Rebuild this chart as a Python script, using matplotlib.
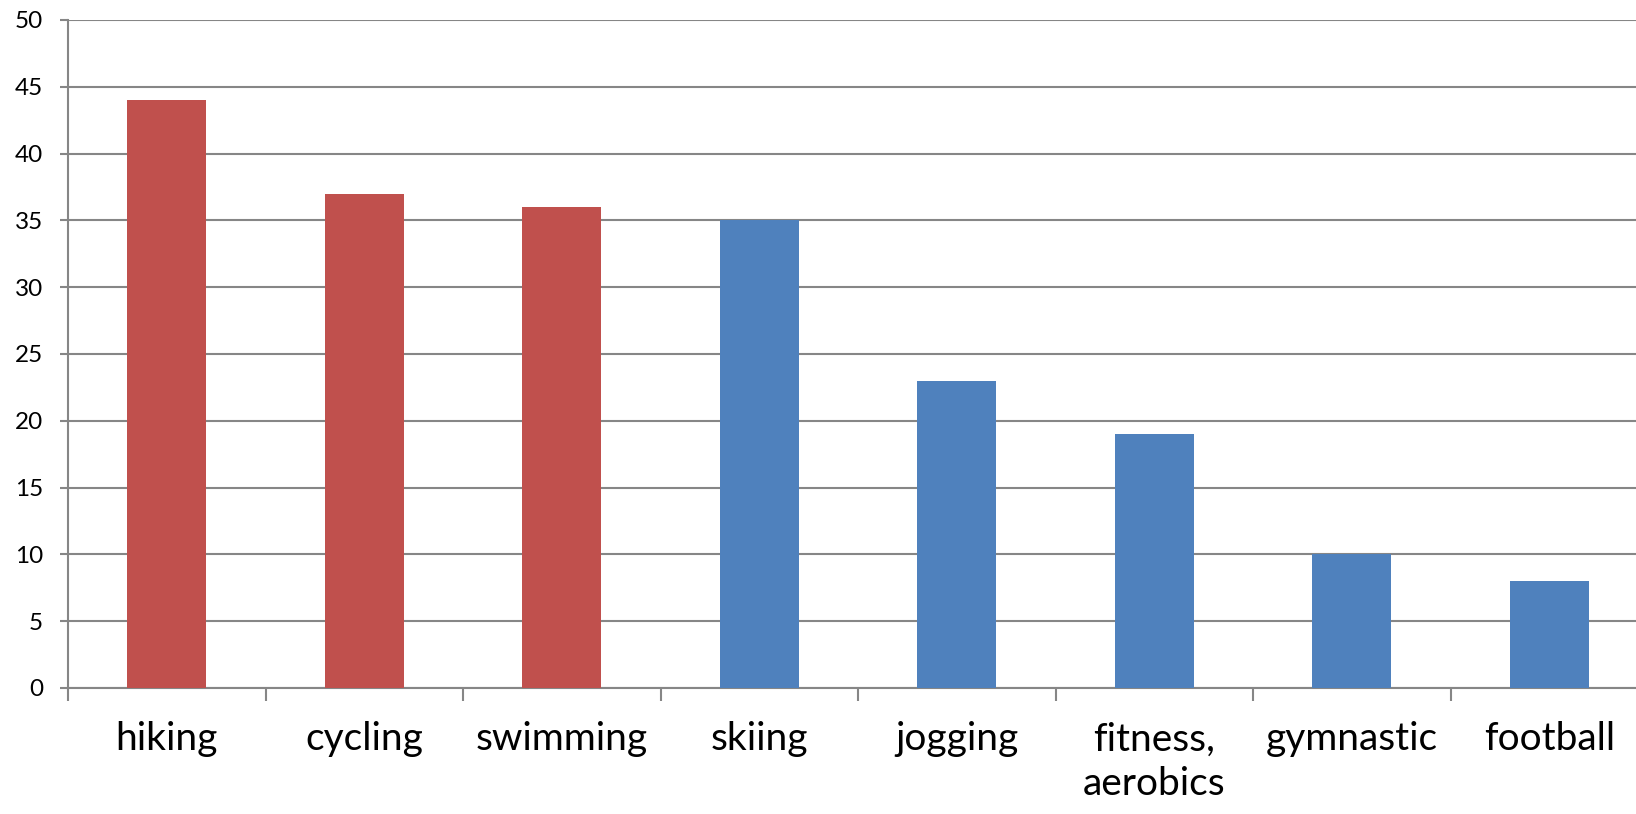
import matplotlib
matplotlib.use("Agg")
import matplotlib.pyplot as plt
import numpy as np

categories = ["hiking", "cycling", "swimming", "skiing", "jogging",
              "fitness,\naerobics", "gymnastic", "football"]
values = [44, 37, 36, 35, 23, 19, 10, 8]
bar_colors = ["#C0504D"] * 3 + ["#4F81BD"] * 5
yticks = list(range(0, 51, 5))

plt.rcParams['font.family'] = ['Lato', 'DejaVu Sans']

W, H = 1636, 814
fig = plt.figure(figsize=(W / 100, H / 100), dpi=100)
# the plot area runs past the right edge of the picture, as in the original
ax = fig.add_axes([68 / W, 1 - 688 / H, 1580 / W, 668 / H])

x = np.arange(len(categories))
ax.bar(x, values, width=0.4, color=bar_colors, zorder=3)

ax.set_xlim(-0.5, len(categories) - 0.5)
ax.set_ylim(0, 50)
ax.set_yticks(yticks)
ax.yaxis.grid(True, color="#868686", linewidth=1.5, zorder=0)

for s in ["top", "right"]:
    ax.spines[s].set_visible(False)
for s in ["left", "bottom"]:
    ax.spines[s].set_color("#868686")
    ax.spines[s].set_linewidth(1.5)

ax.tick_params(axis="y", labelsize=17.5, length=6, color="#868686", width=1.5, pad=12)
ax.set_xticks(np.arange(-0.5, len(categories), 1.0))
ax.set_xticklabels([])
ax.tick_params(axis="x", which="major", length=9, color="#868686", width=1.5)
ax.set_xticks(x, minor=True)
ax.set_xticklabels(categories, minor=True, fontsize=28, linespacing=1.3)
ax.tick_params(axis="x", which="minor", length=0, pad=24)

fig.savefig("out.png", dpi=100)
